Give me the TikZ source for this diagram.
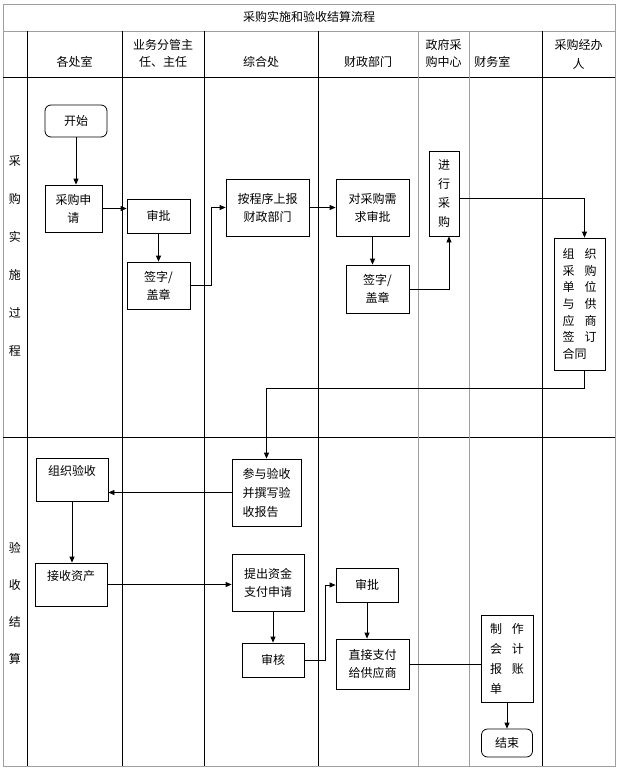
\documentclass[tikz,border=0pt]{standalone}
\usepackage{fontspec}
\setmainfont{Noto Sans CJK SC}
\usetikzlibrary{arrows.meta}
\begin{document}
\begin{tikzpicture}[x=1pt,y=-1pt,line width=.8pt,font=\fontsize{12}{18}\selectfont,
task/.style={draw,align=center,inner sep=2pt},
term/.style={task,rounded corners=6pt},
high/.style={text height=12pt,text depth=20pt},
flow/.style={-{Triangle[length=6pt,width=5pt]}},
grid/.style={gray!75}]
\useasboundingbox(0,0)rectangle(620,772);
\newcommand{\Task}[7][]{\node[task,minimum width=#5,minimum height=#6,#1](#2)at(#3,#4){#7};}
% table
\draw[grid](3,4)rectangle(615,766);
\draw[grid](3,31)--(615,31);
\draw(3,77)--(615,77)(3,437)--(615,437);
\foreach \x in {27,122,204,318,542}\draw(\x,31)--(\x,766);
\foreach \x in {418,469}\draw[grid](\x,31)--(\x,766);
% headers
\node(title)at(309,17){采购实施和验收结算流程};
\node(hA)at(74.5,62){各处室};
\node[align=center,font=\fontsize{12}{17}\selectfont](hB)at(163,53.5){业务分管主\\任、主任};
\node(hC)at(261,62){综合处};
\node(hD)at(368,62){财政部门};
\node[align=left,inner sep=0,font=\fontsize{12}{17}\selectfont](hE)at(443.5,53.5){政府采\\购中心};
\node[anchor=west,inner sep=0](hF)at(474,62){财务室};
\node[align=center,font=\fontsize{12}{19}\selectfont](hG)at(578.5,54){采购经办\\人};
\node[align=center,font=\fontsize{12}{38}\selectfont](rowA)at(15,256){采\\购\\实\\施\\过\\程};
\node[align=center,font=\fontsize{12}{37}\selectfont](rowB)at(15,603){验\\收\\结\\算};
% purchase
\Task[term]{start}{76}{121}{62}{32}{开始}
\Task{apply}{73.5}{208.5}{57}{47}{采购申\\请}
\Task{approveA}{158.5}{216}{63}{34}{审批}
\Task{signA}{158.5}{285.5}{63}{47}{签字/\\盖章}
\Task{report}{267.5}{207.5}{83}{57}{按程序上报\\财政部门}
\Task{review}{372.5}{207.5}{73}{57}{对采购需\\求审批}
\Task{signB}{377.5}{289}{63}{48}{签字/\\盖章}
\Task[font=\fontsize{12}{19}\selectfont]{buy}{444}{193.5}{30}{85}{进\\行\\采\\购}
\Task[text width=34,align=left,font=\fontsize{12}{16.7}\selectfont]{contract}{579.5}{304}{51}{132}{组\hfill 织\\采\hfill 购\\单\hfill 位\\与\hfill 供\\应\hfill 商\\签\hfill 订\\合同}
% settlement
\Task[high]{check}{72}{479.5}{72}{43}{组织验收}
\Task[high]{receive}{71}{584.5}{72}{43}{接收资产}
\Task[align=left,font=\fontsize{12}{19}\selectfont]{join}{266.5}{492.5}{69}{67}{参与验收\\并撰写验\\收报告}
\Task{payreq}{268}{582.5}{72}{57}{提出资金\\支付申请}
\Task{audit}{273}{660}{62}{34}{审核}
\Task{approveB}{367}{585}{62}{34}{审批}
\Task[align=left]{direct}{372.5}{664}{73}{50}{直接支付\\给供应商}
\Task[text width=34,align=left,font=\fontsize{12}{20}\selectfont]{ledger}{507}{658.5}{52}{87}{制\hfill 作\\会\hfill 计\\报\hfill 账\\单}
\Task[term]{finish}{507}{743}{51}{28}{结束}
% flow
\draw[flow](start.south)--(start.south|-apply.north);
\draw[flow](apply.east)--(apply.east-|approveA.west);
\draw[flow](approveA)--(signA);
\draw[flow](signA.east)--++(21,0)|-(report.west);
\draw[flow](report)--(review);
\draw[flow](review.south)--(review.south|-signB.north);
\draw[flow](signB.east)-|([xshift=5pt]buy.south);
\draw[flow]([yshift=-5pt]buy.east)-|([xshift=5pt]contract.north);
\draw[flow]([xshift=5pt]contract.south)--++(0,18)-|(join.north);
\draw[flow](join.west)--(join.west-|check.east);
\draw[flow](check.south)--(check.south|-receive.north);
\draw[flow](receive)--(receive-|payreq.west);
\draw[flow](audit.north|-payreq.south)--(audit.north);
\draw[flow](audit.east)--++(21,0)|-(approveB.west);
\draw[flow](approveB.south)--(approveB.south|-direct.north);
\draw(direct)--(direct-|ledger.west);
\draw[flow](ledger)--(finish);
\end{tikzpicture}
\end{document}
